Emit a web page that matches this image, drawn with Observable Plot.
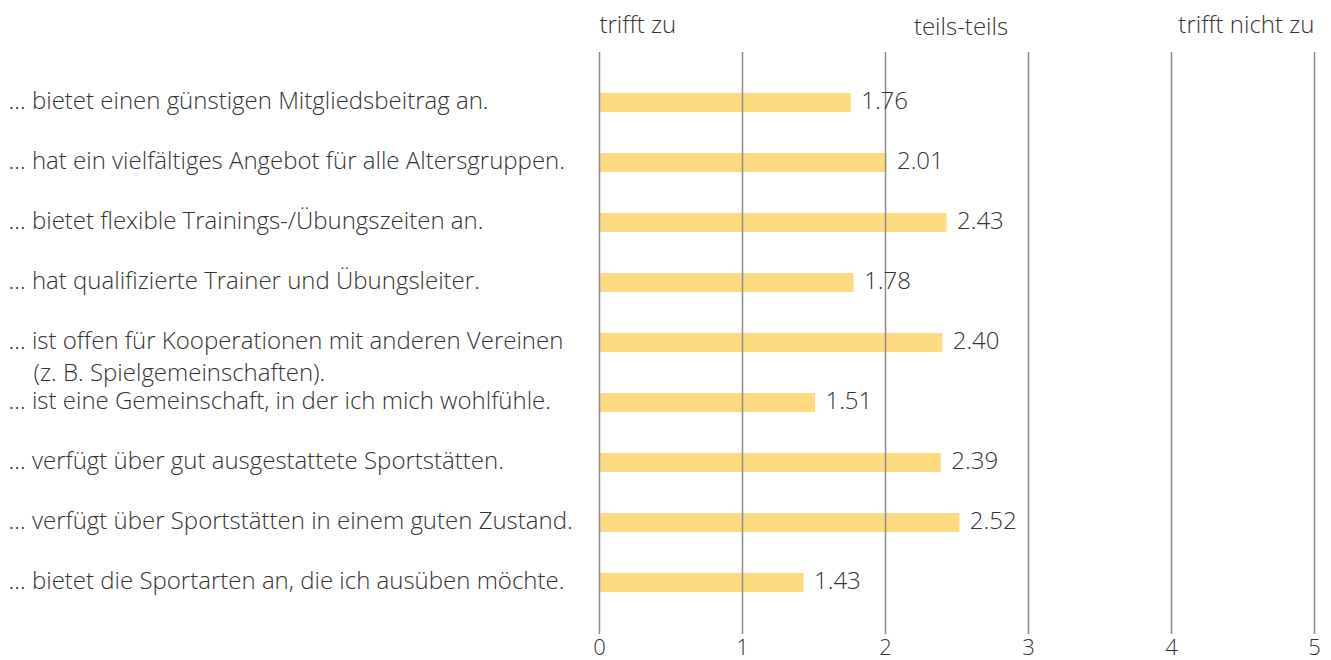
<!DOCTYPE html>
<html>
<head>
<meta charset="utf-8">
<script src="https://cdn.jsdelivr.net/npm/d3@7"></script>
<script src="https://cdn.jsdelivr.net/npm/@observablehq/plot@0.6"></script>
<style>
  html, body { margin: 0; padding: 0; background: #fff; }
  svg { display: block; }
</style>
</head>
<body>
<div id="chart"></div>
<script>
const statements = [
  "… bietet einen günstigen Mitgliedsbeitrag an.",
  "… hat ein vielfältiges Angebot für alle Altersgruppen.",
  "… bietet flexible Trainings-/Übungszeiten an.",
  "… hat qualifizierte Trainer und Übungsleiter.",
  "… ist offen für Kooperationen mit anderen Vereinen\n\u00a0\u00a0\u00a0\u00a0(z. B. Spielgemeinschaften).",
  "… ist eine Gemeinschaft, in der ich mich wohlfühle.",
  "… verfügt über gut ausgestattete Sportstätten.",
  "… verfügt über Sportstätten in einem guten Zustand.",
  "… bietet die Sportarten an, die ich ausüben möchte."
];
const means = [1.76, 2.01, 2.43, 1.78, 2.40, 1.51, 2.39, 2.52, 1.43];
const ticks = [0, 1, 2, 3, 4, 5];
const scaleLabels = ["trifft zu", "teils-teils", "trifft nicht zu"];
const scaleLabelPos = [0, 2.5, 5];

const data = statements.map((s, i) => ({ s, v: means[i] }));
const font = "'Open Sans', sans-serif";
const textColor = "#333333";

const chart = Plot.plot({
  width: 1331,
  height: 660,
  marginLeft: 599,
  marginRight: 17,
  marginTop: 48,
  marginBottom: 24,
  style: { fontFamily: font, fontWeight: 300, color: textColor, background: "#fff", overflow: "visible" },
  x: { domain: [0, 5], axis: null, label: null },
  y: { domain: statements, axis: null, padding: 0.686 },
  marks: [
    Plot.barX(data, { x: "v", y: "s", fill: "#FDDA80" }),
    Plot.ruleX(ticks, { stroke: "#8c8c8c", strokeWidth: 1.5, insetTop: 4, insetBottom: 2 }),
    Plot.axisX(ticks, { anchor: "bottom", label: null, tickSize: 0, tickPadding: 3, fontSize: 22, fill: textColor, tickFormat: d => String(d) }),
    Plot.text(data, { x: "v", y: "s", text: d => d.v.toFixed(2), textAnchor: "start", dx: 10, dy: -2, fontSize: 24, fill: textColor }),
    Plot.text(data, { y: "s", text: "s", frameAnchor: "left", textAnchor: "start", dx: -591, fontSize: 24, fill: textColor, lineAnchor: "top", lineHeight: 1.35, dy: -17 }),
    Plot.text([0], { x: d => scaleLabelPos[0], text: d => scaleLabels[0], frameAnchor: "top", textAnchor: "start", dy: -33, fontSize: 24, fill: textColor }),
    Plot.text([1], { x: d => scaleLabelPos[1], text: d => scaleLabels[1], frameAnchor: "top", textAnchor: "middle", dx: 4, dy: -31, fontSize: 24, fill: textColor }),
    Plot.text([2], { x: d => scaleLabelPos[2], text: d => scaleLabels[2], frameAnchor: "top", textAnchor: "end", dy: -33, fontSize: 24, fill: textColor })
  ]
});
document.getElementById("chart").appendChild(chart);
</script>
</body>
</html>
